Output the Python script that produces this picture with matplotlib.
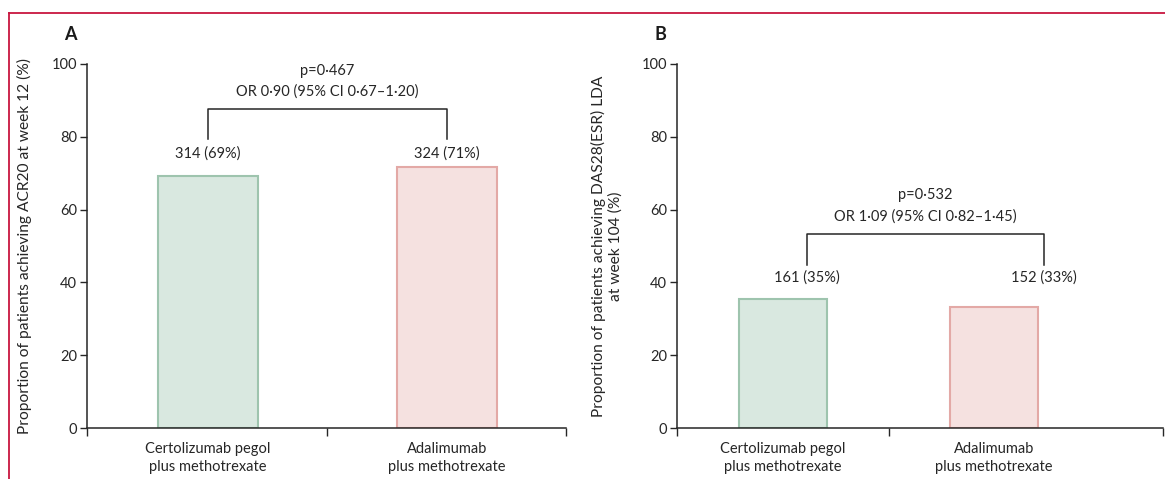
import matplotlib
matplotlib.use("Agg")
import matplotlib.pyplot as plt
from matplotlib.lines import Line2D

plt.rcParams['font.family'] = ['Lato', 'DejaVu Sans']

# ---- data ----
categories = ["Certolizumab pegol\nplus methotrexate", "Adalimumab\nplus methotrexate"]
values_a = [69.3, 71.6]
labels_a = ["314 (69%)", "324 (71%)"]
values_b = [35.4, 33.3]
labels_b = ["161 (35%)", "152 (33%)"]
stat_a = ["p=0·467", "OR 0·90 (95% CI 0·67–1·20)"]
stat_b = ["p=0·532", "OR 1·09 (95% CI 0·82–1·45)"]
ylabel_a = "Proportion of patients achieving ACR20 at week 12 (%)"
ylabel_b = "Proportion of patients achieving DAS28(ESR) LDA\nat week 104 (%)"
yticks = [0, 20, 40, 60, 80, 100]

fill_colors = ["#d9e8e0", "#f5e1e0"]
edge_colors = ["#9ec4ae", "#e3a9a6"]
txt = "#262626"
FS = 10.5
FS_YL = 11.2

W, H = 1165, 479
fig = plt.figure(figsize=(W / 100, H / 100), dpi=100)

def fx(px):
    return px / W

def fy(py):
    return 1 - py / H

# red frame
fig.add_artist(Line2D([fx(9), 1.0], [fy(13), fy(13)], color="#c8163f", lw=1.3))
fig.add_artist(Line2D([fx(9), fx(9)], [fy(13), 0.0], color="#c8163f", lw=1.3))


def panel(left_px, right_px, xlim, xticks_minor, values, labels, lab_x, stat, ylabel,
          brk_top, brk_bot, lab_y, p_y, or_y, letter, letter_px, ylab_px):
    ax = fig.add_axes([fx(left_px), fy(428), fx(right_px - left_px), (428 - 64) / H])
    x = [0, 1]
    ax.bar(x, values, width=0.42, color=fill_colors, edgecolor=edge_colors, linewidth=1.5)
    ax.set_xlim(*xlim)
    ax.set_ylim(0, 100)
    ax.set_yticks(yticks)
    ax.tick_params(axis='y', length=5, width=1, colors=txt, labelsize=FS, pad=2)
    ax.set_xticks(x)
    ax.set_xticklabels(categories, fontsize=FS, color=txt, linespacing=1.35)
    ax.tick_params(axis='x', which='major', length=0, pad=10)
    ax.set_xticks(xticks_minor, minor=True)
    ax.tick_params(axis='x', which='minor', length=6, width=1, color=txt, direction='out')
    for s in ['top', 'right']:
        ax.spines[s].set_visible(False)
    for s in ['left', 'bottom']:
        ax.spines[s].set_color(txt)
        ax.spines[s].set_linewidth(1.1)
    ax.spines['left'].set_bounds(0, 100)
    # bracket
    ax.plot([lab_x[0], lab_x[0], lab_x[1], lab_x[1]], [brk_bot, brk_top, brk_top, brk_bot],
            color=txt, lw=1.1, clip_on=False)
    for xx, lb in zip(lab_x, labels):
        ax.text(xx, lab_y, lb, ha='center', va='center', fontsize=FS, color=txt)
    mid = (lab_x[0] + lab_x[1]) / 2
    ax.text(mid, p_y, stat[0], ha='center', va='center', fontsize=FS, color=txt)
    ax.text(mid, or_y, stat[1], ha='center', va='center', fontsize=FS, color=txt)
    ax.set_ylabel(ylabel, fontsize=FS_YL, color=txt, linespacing=1.2)
    ax.yaxis.set_label_coords((ylab_px - left_px) / (right_px - left_px), 0.5)
    fig.text(fx(letter_px), fy(35), letter, fontsize=13, fontweight='bold', color="#1a1a1a",
             ha='center', va='center')
    return ax


panel(87, 566, (-0.506, 1.498), [-0.506, 0.5, 1.498], values_a, labels_a, [0, 1], stat_a,
      ylabel_a, 87.6, 79.4, 75.5, 98.0, 92.3, "A", 70, 32)
panel(677, 1163, (-0.502, 1.801), [-0.502, 0.502, 1.801], values_b, labels_b, [0.114, 1.237],
      stat_b, ylabel_b, 53.3, 44.8, 41.2, 64.0, 58.0, "B", 660, 623)

fig.savefig("out.png", dpi=100)
